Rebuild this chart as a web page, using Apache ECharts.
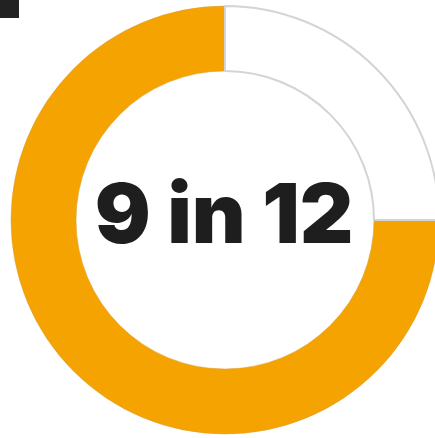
<!DOCTYPE html>
<html>
<head>
<meta charset="utf-8">
<script src="https://cdn.jsdelivr.net/npm/echarts@6/dist/echarts.min.js"></script>
<style>
  html, body { margin: 0; padding: 0; background: #fff; }
  #chart { width: 435px; height: 438px; }
</style>
</head>
<body>
<div id="chart"></div>
<script>
const labels = ['Done', 'Left']
const values = [9, 3]
const colors = ['#f5a300', '#ffffff']
const centerText = '9 in 12'

const chart = echarts.init(document.getElementById('chart'))

chart.setOption({
  animation: false,
  graphic: [
    { type: 'rect', left: 0, top: 0, shape: { width: 19, height: 18 }, style: { fill: '#222222' } },
    {
      type: 'text',
      style: {
        text: centerText, x: 224, y: 218,
        align: 'center', verticalAlign: 'middle',
        font: '900 83px Inter, "Noto Sans", sans-serif',
        fill: '#1e1e1e'
      }
    }
  ],
  series: [{
    type: 'pie',
    center: [225, 220],
    radius: [149, 214],
    startAngle: 90,
    clockwise: false,
    silent: true,
    label: { show: false },
    labelLine: { show: false },
    data: labels.map((n, i) => ({
      name: n,
      value: values[i],
      itemStyle: {
        color: colors[i],
        borderColor: i === 0 ? '#d9a040' : '#d4d4d4',
        borderWidth: i === 0 ? 0.5 : 2
      }
    }))
  }]
})
</script>
</body>
</html>
